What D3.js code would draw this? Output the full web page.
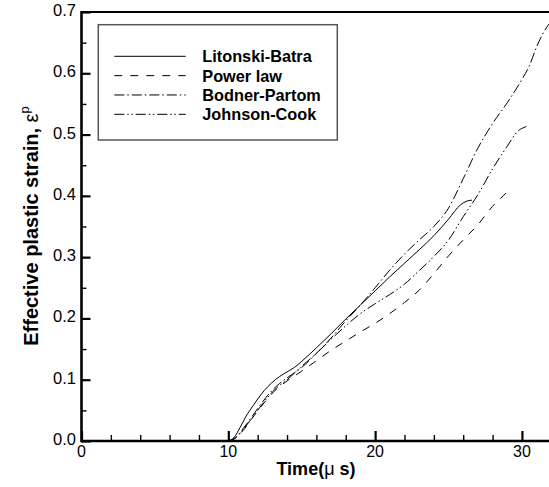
<!DOCTYPE html>
<html>
<head>
<meta charset="utf-8">
<script src="https://cdn.jsdelivr.net/npm/d3@7"></script>
<style>
  html, body { margin: 0; padding: 0; background: #fff; }
  svg { display: block; }
  text { font-family: "Liberation Sans", Arial, sans-serif; fill: #000; }
</style>
</head>
<body>
<svg id="chart" width="549" height="487"></svg>
<script>
// Effective plastic strain vs. time for four constitutive relations
const seriesNames = ["Litonski-Batra", "Power law", "Bodner-Partom", "Johnson-Cook"];

const litonskiT = [10.0, 10.4, 10.8, 11.2, 11.7, 12.2, 12.7, 13.2, 13.8, 14.5, 15.0, 16.0, 17.0, 18.0, 19.0, 20.0, 21.0, 22.0, 23.0, 24.0, 25.0, 25.8, 26.2, 26.6];
const litonskiE = [0.000, 0.006, 0.022, 0.040, 0.058, 0.075, 0.089, 0.100, 0.110, 0.120, 0.130, 0.152, 0.175, 0.199, 0.222, 0.245, 0.268, 0.290, 0.312, 0.335, 0.362, 0.385, 0.391, 0.393];

const powerT = [10.0, 10.5, 11.0, 11.5, 12.0, 12.5, 13.0, 13.5, 14.0, 15.0, 16.0, 17.0, 18.0, 19.0, 20.0, 21.0, 22.0, 23.0, 24.0, 25.0, 26.0, 27.0, 28.0, 29.0, 29.2];
const powerE = [0.000, 0.005, 0.017, 0.033, 0.049, 0.064, 0.078, 0.089, 0.098, 0.114, 0.131, 0.148, 0.163, 0.178, 0.192, 0.208, 0.226, 0.246, 0.273, 0.302, 0.328, 0.353, 0.383, 0.407, 0.413];

const bodnerT = [10.0, 10.5, 11.0, 11.5, 12.0, 12.5, 13.0, 13.5, 14.0, 15.0, 16.0, 17.0, 18.0, 19.0, 20.0, 21.0, 22.0, 23.0, 24.0, 25.0, 26.0, 27.0, 28.0, 29.0, 30.0, 30.5, 31.0, 31.5, 32.0];
const bodnerE = [0.000, 0.006, 0.020, 0.036, 0.053, 0.069, 0.083, 0.094, 0.103, 0.120, 0.143, 0.168, 0.196, 0.222, 0.250, 0.279, 0.305, 0.328, 0.350, 0.380, 0.428, 0.478, 0.518, 0.552, 0.590, 0.612, 0.643, 0.668, 0.685];

const johnsonT = [10.0, 10.5, 11.0, 11.5, 12.0, 12.5, 13.0, 13.5, 14.0, 15.0, 16.0, 17.0, 18.0, 19.0, 20.0, 21.0, 22.0, 23.0, 24.0, 25.0, 26.0, 27.0, 28.0, 29.0, 29.7, 30.3];
const johnsonE = [0.000, 0.005, 0.018, 0.034, 0.050, 0.066, 0.080, 0.091, 0.100, 0.122, 0.143, 0.166, 0.188, 0.208, 0.224, 0.239, 0.256, 0.278, 0.301, 0.328, 0.366, 0.402, 0.444, 0.481, 0.505, 0.513];

const xMajorTicks = [0, 10, 20, 30];
const xMinorTicks = [2, 4, 6, 8, 12, 14, 16, 18, 22, 24, 26, 28];
const yMajorTicks = [0.0, 0.1, 0.2, 0.3, 0.4, 0.5, 0.6, 0.7];
const yMinorTicks = [0.05, 0.15, 0.25, 0.35, 0.45, 0.55, 0.65];

const svg = d3.select("#chart");
const plotLeft = 81.5, plotRight = 551.3, plotTop = 12, plotBottom = 441;

const x = d3.scaleLinear().domain([0, 32]).range([plotLeft, plotRight]);
const y = d3.scaleLinear().domain([0, 0.7]).range([plotBottom, plotTop]);

const series = [
  { name: seriesNames[0], t: litonskiT, e: litonskiE, dash: null },
  { name: seriesNames[1], t: powerT,    e: powerE,    dash: "8,8" },
  { name: seriesNames[2], t: bodnerT,   e: bodnerE,   dash: "10,3,1.5,3" },
  { name: seriesNames[3], t: johnsonT,  e: johnsonE,  dash: "10,3,1.5,2.5,1.5,3" }
];

svg.append("defs").append("clipPath").attr("id", "plotClip")
  .append("rect").attr("x", plotLeft).attr("y", plotTop)
  .attr("width", plotRight - plotLeft).attr("height", plotBottom - plotTop);

const line = d3.line()
  .x(d => x(d[0])).y(d => y(d[1]))
  .curve(d3.curveMonotoneX);

const curves = svg.append("g").attr("clip-path", "url(#plotClip)");
series.forEach(s => {
  curves.append("path")
    .datum(s.t.map((t, i) => [t, s.e[i]]))
    .attr("d", line)
    .attr("fill", "none")
    .attr("stroke", "#000")
    .attr("stroke-width", 1)
    .attr("stroke-dasharray", s.dash);
});

// Axes: ticks point inward, labels drawn separately
const xAxisMajor = d3.axisBottom(x).tickValues(xMajorTicks).tickSize(-10).tickFormat("");
const xAxisMinor = d3.axisBottom(x).tickValues(xMinorTicks).tickSize(-6).tickFormat("");
const yAxisMajor = d3.axisLeft(y).tickValues(yMajorTicks).tickSize(-9).tickFormat("");
const yAxisMinor = d3.axisLeft(y).tickValues(yMinorTicks).tickSize(-5).tickFormat("");

function styleAxis(g, w) {
  g.select(".domain").remove();
  g.selectAll(".tick line").attr("stroke", "#000").attr("stroke-width", w);
}
svg.append("g").attr("transform", `translate(0,${plotBottom})`).call(xAxisMajor).call(g => styleAxis(g, 2.2));
svg.append("g").attr("transform", `translate(0,${plotBottom})`).call(xAxisMinor).call(g => styleAxis(g, 1.4));
svg.append("g").attr("transform", `translate(${plotLeft},0)`).call(yAxisMajor).call(g => styleAxis(g, 2.2));
svg.append("g").attr("transform", `translate(${plotLeft},0)`).call(yAxisMinor).call(g => styleAxis(g, 1.4));

// Frame
svg.append("line").attr("x1", plotLeft).attr("x2", 549).attr("y1", plotTop).attr("y2", plotTop)
  .attr("stroke", "#000").attr("stroke-width", 2.2);
svg.append("line").attr("x1", plotLeft).attr("x2", 549).attr("y1", plotBottom).attr("y2", plotBottom)
  .attr("stroke", "#000").attr("stroke-width", 2.6);
svg.append("line").attr("x1", plotLeft).attr("x2", plotLeft).attr("y1", plotTop - 1).attr("y2", plotBottom + 1.3)
  .attr("stroke", "#000").attr("stroke-width", 2.6);

// Tick labels
svg.append("g").selectAll("text").data(xMajorTicks).join("text")
  .attr("x", d => x(d)).attr("y", 457)
  .attr("text-anchor", "middle").attr("font-size", 16)
  .text(d => d);
svg.append("g").selectAll("text").data(yMajorTicks).join("text")
  .attr("x", 76).attr("y", d => y(d) + 4)
  .attr("text-anchor", "end").attr("font-size", 16.5)
  .text(d => d3.format(".1f")(d));

// Axis titles
const xTitle = svg.append("text").attr("x", 316).attr("y", 475)
  .attr("text-anchor", "middle").attr("font-size", 18).attr("font-weight", "bold");
xTitle.append("tspan").text("Time(");
xTitle.append("tspan").attr("font-weight", "normal").text("μ");
xTitle.append("tspan").text(" s)");

const yTitle = svg.append("text")
  .attr("transform", "translate(38,226) rotate(-90)")
  .attr("text-anchor", "middle").attr("font-size", 20).attr("font-weight", "bold");
yTitle.append("tspan").text("Effective plastic strain, ");
yTitle.append("tspan").attr("font-weight", "normal").text("ε");
yTitle.append("tspan").attr("font-weight", "normal").attr("font-size", 13).attr("dy", -9).text("p");

// Legend
const legend = svg.append("g");
legend.append("rect").attr("x", 98.3).attr("y", 24.7).attr("width", 239).attr("height", 115.3)
  .attr("fill", "#fff").attr("stroke", "#555").attr("stroke-width", 1.5);
const rowY = d3.scaleLinear().domain([0, 3]).range([56.3, 114.3]);
series.forEach((s, i) => {
  legend.append("line")
    .attr("x1", 114.3).attr("x2", 185.7).attr("y1", rowY(i)).attr("y2", rowY(i))
    .attr("stroke", "#000").attr("stroke-width", 1)
    .attr("stroke-dasharray", s.dash);
  legend.append("text")
    .attr("x", 202.3).attr("y", rowY(i) + 6)
    .attr("font-size", 16.3).attr("font-weight", "bold")
    .text(s.name);
});
</script>
</body>
</html>
